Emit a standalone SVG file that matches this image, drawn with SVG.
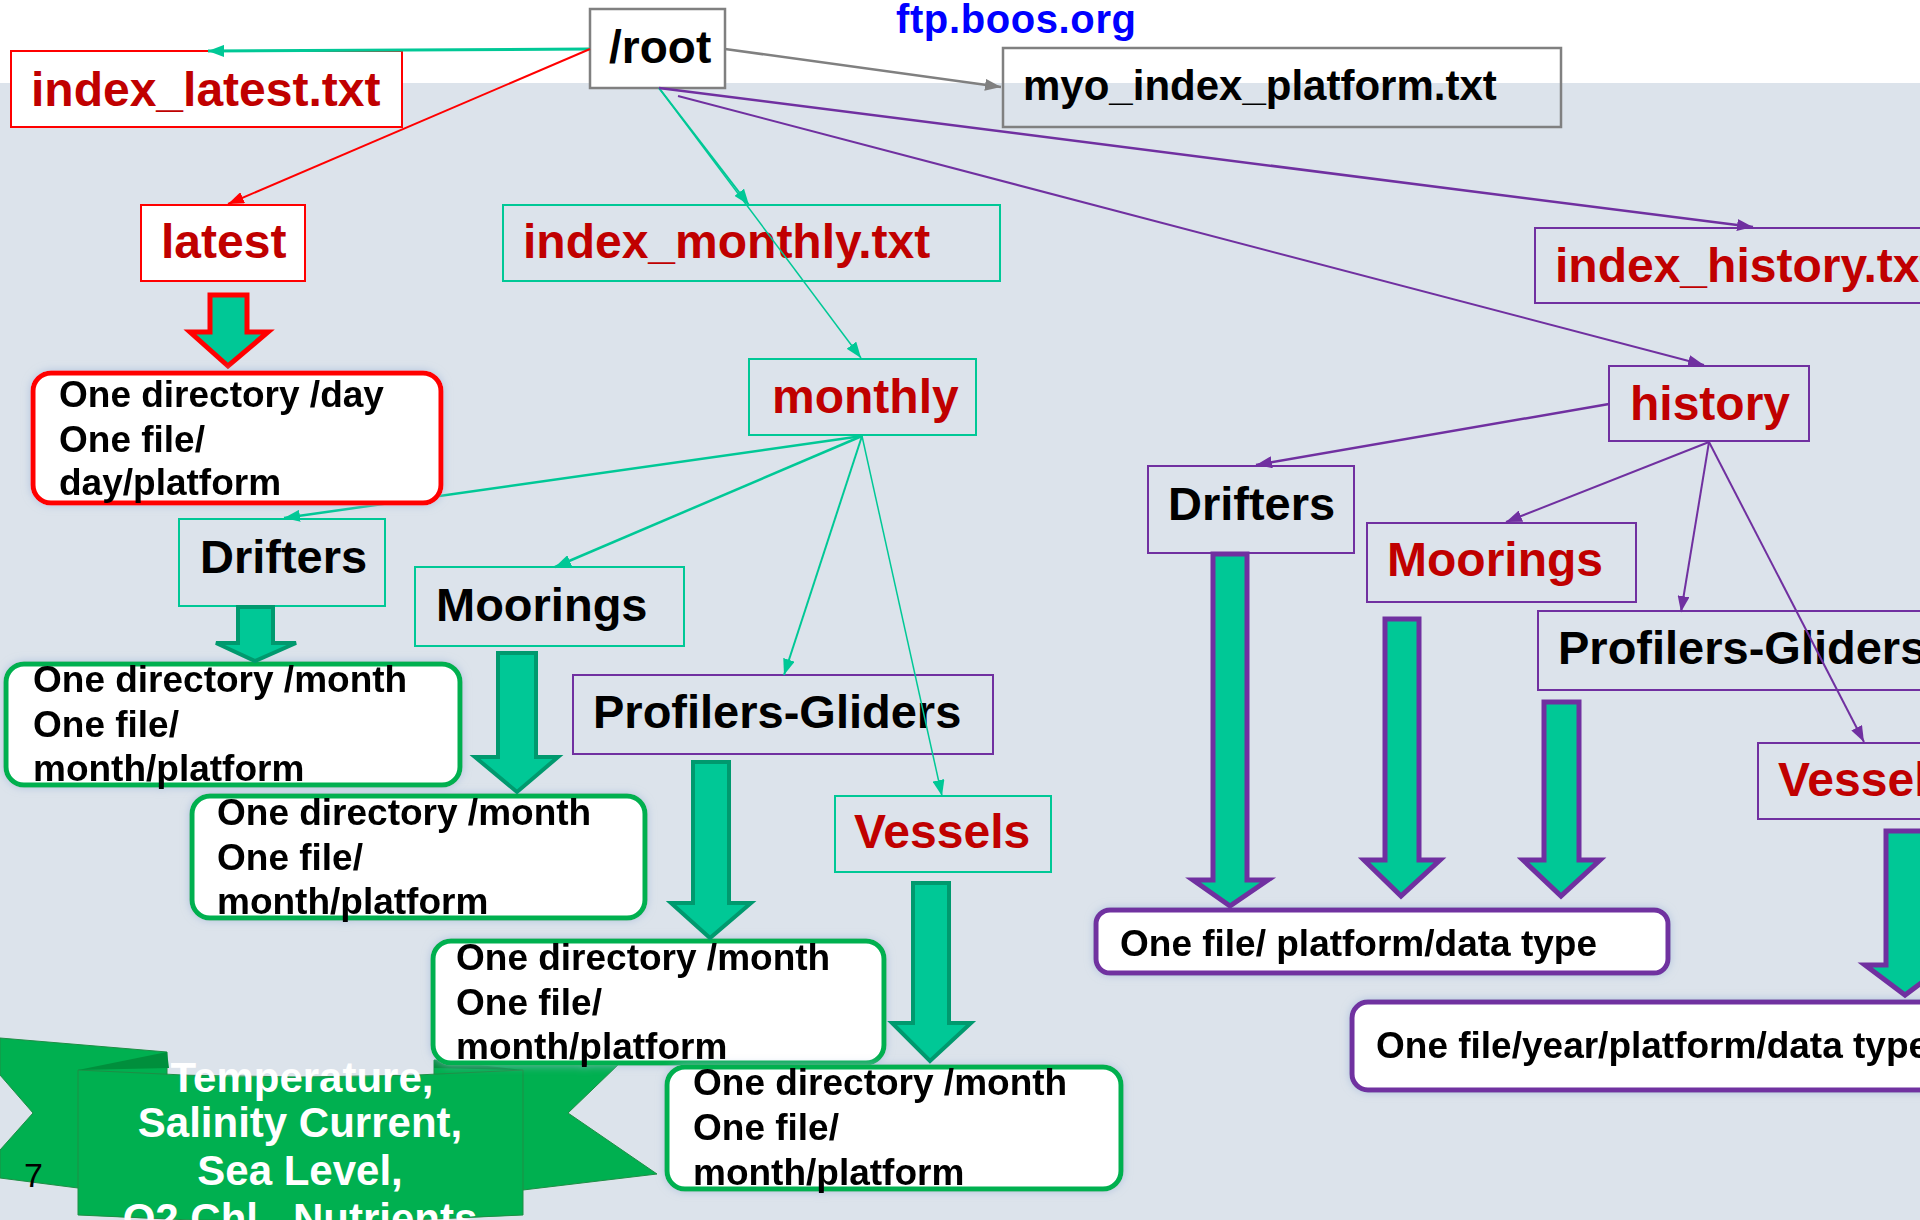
<svg xmlns="http://www.w3.org/2000/svg" width="1920" height="1220" viewBox="0 0 1920 1220">
<style>
text{font-family:"Liberation Sans",Arial,sans-serif;font-weight:bold}
.red{fill:#C00000;font-size:48px}
.blk{fill:#000;font-size:47px}
.small{fill:#000;font-size:37px}
.box-red{fill:#fff;stroke:#FF0000;stroke-width:2}
.box-grn{fill:none;stroke:#00C896;stroke-width:2}
.box-pur{fill:none;stroke:#7030A0;stroke-width:2}
.box-gry{stroke:#808080;stroke-width:2.5}
.rb-red{fill:#fff;stroke:#FF0000;stroke-width:5}
.rb-grn{fill:#fff;stroke:#00B050;stroke-width:5}
.rb-pur{fill:#fff;stroke:#7030A0;stroke-width:5}
.ln{fill:none}
.g{stroke:#00C896}
.r{stroke:#FF0000}
.p{stroke:#7030A0}
.k{stroke:#808080}
.blk-m{fill:#00C896;stroke:#00996E;stroke-width:4;stroke-linejoin:miter}
.blk-h{fill:#00C896;stroke:#7030A0;stroke-width:5;stroke-linejoin:miter}
.blk-r{fill:#00C896;stroke:#FF0000;stroke-width:5;stroke-linejoin:miter}
.rib{fill:#00B050;stroke:#1E8E45;stroke-width:1}
.ribtxt{fill:#fff;font-size:42px;text-anchor:middle}
</style>
<defs>
<filter id="glow" x="-10%" y="-20%" width="120%" height="140%">
<feGaussianBlur in="SourceAlpha" stdDeviation="4" result="b"/>
<feFlood flood-color="#9fb6d8" flood-opacity="0.7"/>
<feComposite in2="b" operator="in" result="s"/>
<feMerge><feMergeNode in="s"/><feMergeNode in="SourceGraphic"/></feMerge>
</filter>
<marker id="ag" viewBox="0 0 16 12" refX="16" refY="6" markerWidth="16" markerHeight="12" orient="auto" markerUnits="userSpaceOnUse"><path d="M0,0 L16,6 L0,12 z" fill="#00C896"/></marker>
<marker id="ar" viewBox="0 0 16 12" refX="16" refY="6" markerWidth="16" markerHeight="12" orient="auto" markerUnits="userSpaceOnUse"><path d="M0,0 L16,6 L0,12 z" fill="#FF0000"/></marker>
<marker id="ap" viewBox="0 0 16 12" refX="16" refY="6" markerWidth="16" markerHeight="12" orient="auto" markerUnits="userSpaceOnUse"><path d="M0,0 L16,6 L0,12 z" fill="#7030A0"/></marker>
<marker id="ak" viewBox="0 0 16 12" refX="16" refY="6" markerWidth="16" markerHeight="12" orient="auto" markerUnits="userSpaceOnUse"><path d="M0,0 L16,6 L0,12 z" fill="#808080"/></marker>
</defs>

<rect x="0" y="0" width="1920" height="1220" fill="#ffffff"/>
<rect x="0" y="83" width="1920" height="1137" fill="#DCE3EB"/>

<text x="896" y="33" style="fill:#0000FF;font-size:40px" textLength="240">ftp.boos.org</text>

<!-- ribbon banner -->
<g id="banner">
<polygon class="rib" points="0,1038 167,1052 167,1190 78,1188 0,1178 0,1150 33,1113 0,1075"/>
<polygon class="rib" points="434,1060 620,1063 568,1113 657,1174 523,1190 434,1190"/>
<path class="rib" d="M78,1070 Q300,1084 523,1070 L523,1215 Q300,1228 78,1215 Z"/>
<polygon points="78,1070 167,1052 169,1068" fill="#008F3C"/>
<polygon points="434,1060 523,1070 434,1068" fill="#008F3C"/>
<text class="ribtxt" x="302" y="1092">Temperature,</text>
<text class="ribtxt" x="300" y="1137">Salinity Current,</text>
<text class="ribtxt" x="300" y="1185">Sea Level,</text>
<text class="ribtxt" x="300" y="1233">O2,Chl , Nutrients</text>
<text x="24" y="1187" style="font-weight:normal;font-size:34px;fill:#000">7</text>
</g>

<!-- nodes -->
<g id="root"><rect class="box-gry" x="590" y="9" width="135" height="79" fill="#fff"/><text class="blk" x="609" y="63" style="font-size:46px">/root</text></g>
<g id="myo-index-platform"><rect class="box-gry" x="1003" y="48" width="558" height="79" fill="none"/><text class="blk" x="1023" y="100" style="font-size:42px">myo_index_platform.txt</text></g>
<g id="index-latest"><rect class="box-red" x="11" y="51" width="391" height="76"/><text class="red" x="31" y="106">index_latest.txt</text></g>
<g id="latest"><rect class="box-red" x="141" y="205" width="164" height="76"/><text class="red" x="161" y="258">latest</text></g>
<g id="index-monthly"><rect class="box-grn" x="503" y="205" width="497" height="76"/><text class="red" x="523" y="258">index_monthly.txt</text></g>
<g id="monthly"><rect class="box-grn" x="749" y="359" width="227" height="76"/><text class="red" x="772" y="413">monthly</text></g>
<g id="m-drifters"><rect class="box-grn" x="179" y="519" width="206" height="87"/><text class="blk" x="200" y="573">Drifters</text></g>
<g id="m-moorings"><rect class="box-grn" x="415" y="567" width="269" height="79"/><text class="blk" x="436" y="621">Moorings</text></g>
<g id="m-profilers"><rect class="box-pur" x="573" y="675" width="420" height="79"/><text class="blk" x="593" y="728">Profilers-Gliders</text></g>
<g id="m-vessels"><rect class="box-grn" x="835" y="796" width="216" height="76"/><text class="red" x="854" y="848">Vessels</text></g>
<g id="index-history"><rect class="box-pur" x="1535" y="228" width="400" height="75"/><text class="red" x="1555" y="282">index_history.txt</text></g>
<g id="history"><rect class="box-pur" x="1609" y="366" width="200" height="75"/><text class="red" x="1630" y="420">history</text></g>
<g id="h-drifters"><rect class="box-pur" x="1148" y="466" width="206" height="87"/><text class="blk" x="1168" y="520">Drifters</text></g>
<g id="h-moorings"><rect class="box-pur" x="1367" y="523" width="269" height="79"/><text class="red" x="1387" y="576">Moorings</text></g>
<g id="h-profilers"><rect class="box-pur" x="1538" y="611" width="400" height="79"/><text class="blk" x="1558" y="664">Profilers-Gliders</text></g>
<g id="h-vessels"><rect class="box-pur" x="1758" y="743" width="180" height="76"/><text class="red" x="1778" y="796">Vessels</text></g>

<g id="m-drifters-files" filter="url(#glow)"><rect class="rb-grn" x="6" y="664" width="454" height="121" rx="18"/>
<text class="small" x="33" y="692">One directory /month</text><text class="small" x="33" y="737">One file/</text><text class="small" x="33" y="781">month/platform</text></g>
<g id="m-moorings-files" filter="url(#glow)"><rect class="rb-grn" x="192" y="796" width="453" height="122" rx="18"/>
<text class="small" x="217" y="825">One directory /month</text><text class="small" x="217" y="870">One file/</text><text class="small" x="217" y="914">month/platform</text></g>
<g id="m-profilers-files" filter="url(#glow)"><rect class="rb-grn" x="433" y="941" width="451" height="122" rx="18"/>
<text class="small" x="456" y="970">One directory /month</text><text class="small" x="456" y="1015">One file/</text><text class="small" x="456" y="1059">month/platform</text></g>
<g id="m-vessels-files" filter="url(#glow)"><rect class="rb-grn" x="667" y="1067" width="454" height="122" rx="18"/>
<text class="small" x="693" y="1095">One directory /month</text><text class="small" x="693" y="1140">One file/</text><text class="small" x="693" y="1185">month/platform</text></g>
<g id="h-files" filter="url(#glow)"><rect class="rb-pur" x="1096" y="910" width="572" height="63" rx="14"/>
<text class="small" x="1120" y="956">One file/ platform/data type</text></g>
<g id="h-vessels-files" filter="url(#glow)"><rect class="rb-pur" x="1352" y="1002" width="600" height="88" rx="16"/>
<text class="small" x="1376" y="1058">One file/year/platform/data type</text></g>

<!-- connectors -->
<g id="connectors">
<path class="ln g" stroke-width="3" d="M590,49 L208,51" marker-end="url(#ag)"/>
<path class="ln r" stroke-width="2" d="M590,49 L228,204" marker-end="url(#ar)"/>
<path class="ln k" stroke-width="2.5" d="M725,49 L1001,87" marker-end="url(#ak)"/>
<path class="ln g" stroke-width="2" d="M659,88 L749,205" marker-end="url(#ag)"/>
<path class="ln g" stroke-width="1.5" d="M659,88 L861,358" marker-end="url(#ag)"/>
<path class="ln p" stroke-width="2.5" d="M659,88 L1753,227" marker-end="url(#ap)"/>
<path class="ln p" stroke-width="2" d="M678,96 L1704,365" marker-end="url(#ap)"/>
<path class="ln g" stroke-width="2.5" d="M862,436 L284,518" marker-end="url(#ag)"/>
<path class="ln g" stroke-width="2.5" d="M862,436 L555,567" marker-end="url(#ag)"/>
<path class="ln g" stroke-width="2" d="M862,436 L784,675" marker-end="url(#ag)"/>
<path class="ln g" stroke-width="1.5" d="M862,436 L942,796" marker-end="url(#ag)"/>
<path class="ln p" stroke-width="2.5" d="M1609,404 L1256,465" marker-end="url(#ap)"/>
<path class="ln p" stroke-width="2" d="M1709,442 L1506,522" marker-end="url(#ap)"/>
<path class="ln p" stroke-width="2" d="M1709,442 L1681,612" marker-end="url(#ap)"/>
<path class="ln p" stroke-width="2" d="M1709,442 L1864,742" marker-end="url(#ap)"/>
<polygon class="blk-r" points="210,295 247,295 247,332 268,332 228,366 190,332 210,332"/>
<polygon class="blk-m" points="238,607 273,607 273,643 296,643 255,661 216,643 238,643"/>
<polygon class="blk-m" points="498,653 536,653 536,757 558,757 517,792 475,757 498,757"/>
<polygon class="blk-m" points="693,762 729,762 729,903 751,903 710,938 671,903 693,903"/>
<polygon class="blk-m" points="913,883 949,883 949,1023 971,1023 930,1061 892,1023 913,1023"/>
<polygon class="blk-h" points="1213,554 1247,554 1247,880 1268,880 1230,906 1193,880 1213,880"/>
<polygon class="blk-h" points="1385,619 1419,619 1419,860 1440,860 1401,896 1364,860 1385,860"/>
<polygon class="blk-h" points="1544,702 1579,702 1579,860 1600,860 1561,896 1523,860 1544,860"/>
<polygon class="blk-h" points="1886,831 1924,831 1924,965 1945,965 1905,995 1865,965 1886,965"/>
</g>

<g id="latest-files" filter="url(#glow)"><rect class="rb-red" x="33" y="373" width="408" height="130" rx="18"/>
<text class="small" x="59" y="407">One directory /day</text><text class="small" x="59" y="452">One file/</text><text class="small" x="59" y="495">day/platform</text></g>
</svg>
